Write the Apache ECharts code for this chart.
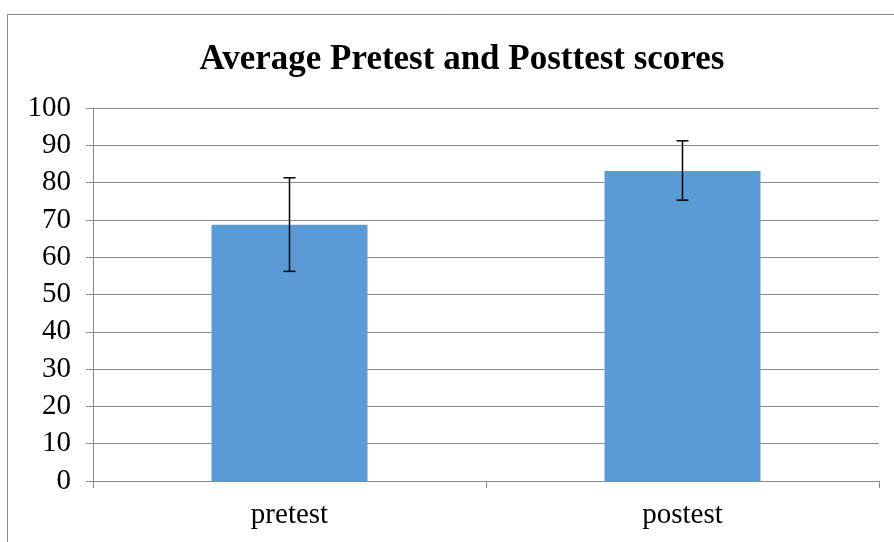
<!DOCTYPE html>
<html>
<head>
<meta charset="utf-8">
<script src="https://cdn.jsdelivr.net/npm/echarts@6/dist/echarts.min.js"></script>
<style>
  html, body { margin: 0; padding: 0; background: #fff; }
  #chart { width: 894px; height: 542px; }
</style>
</head>
<body>
<div id="chart"></div>
<script>
var categories = ['pretest', 'postest'];
var means = [68.7, 83.1];
var errLow = [56.2, 75.3];
var errHigh = [81.3, 91.2];
var yTicks = [0, 10, 20, 30, 40, 50, 60, 70, 80, 90, 100];

var myChart = echarts.init(document.getElementById('chart'));

var errData = categories.map(function (c, i) {
    return [i, errLow[i], errHigh[i]];
});

var serif = '"Liberation Serif", "Times New Roman", serif';

var option = {
    backgroundColor: '#ffffff',
    animation: false,
    title: {
        text: 'Average Pretest and Posttest scores',
        left: 457,
        top: 37,
        textAlign: 'center',
        textStyle: {
            fontFamily: serif,
            fontSize: 35,
            fontWeight: 'bold',
            color: '#000'
        }
    },
    graphic: [{
        type: 'polyline',
        shape: { points: [[7.5, 600], [7.5, 14.5], [900, 14.5]] },
        style: { stroke: '#8a8a8a', lineWidth: 1, fill: null },
        silent: true
    }],
    grid: {
        left: 93,
        right: 15,
        top: 108,
        bottom: 61
    },
    xAxis: {
        type: 'category',
        data: categories,
        axisLine: { lineStyle: { color: '#8a8a8a', width: 1 } },
        axisTick: { show: true, length: 7, lineStyle: { color: '#8a8a8a' } },
        axisLabel: {
            fontFamily: serif,
            fontSize: 29,
            color: '#000',
            margin: 20
        }
    },
    yAxis: {
        type: 'value',
        min: yTicks[0],
        max: yTicks[yTicks.length - 1],
        interval: 10,
        axisLine: { show: true, lineStyle: { color: '#8a8a8a', width: 1 } },
        axisTick: { show: true, length: 7, lineStyle: { color: '#8a8a8a' } },
        axisLabel: {
            fontFamily: serif,
            fontSize: 29,
            color: '#000',
            margin: 22
        },
        splitLine: { lineStyle: { color: '#8a8a8a', width: 1 } }
    },
    series: [{
        name: 'score',
        type: 'bar',
        data: means,
        barWidth: 156,
        itemStyle: { color: '#5b9bd5' }
    }, {
        name: 'error',
        type: 'custom',
        data: errData,
        encode: { x: 0, y: [1, 2] },
        z: 10,
        renderItem: function (params, api) {
            var x = api.value(0);
            var lo = api.coord([x, api.value(1)]);
            var hi = api.coord([x, api.value(2)]);
            var cap = 6;
            var style = { stroke: '#000', lineWidth: 1.5 };
            return {
                type: 'group',
                children: [
                    { type: 'line', shape: { x1: hi[0], y1: hi[1], x2: lo[0], y2: lo[1] }, style: style },
                    { type: 'line', shape: { x1: hi[0] - cap, y1: hi[1], x2: hi[0] + cap, y2: hi[1] }, style: style },
                    { type: 'line', shape: { x1: lo[0] - cap, y1: lo[1], x2: lo[0] + cap, y2: lo[1] }, style: style }
                ]
            };
        }
    }]
};

myChart.setOption(option);
</script>
</body>
</html>
